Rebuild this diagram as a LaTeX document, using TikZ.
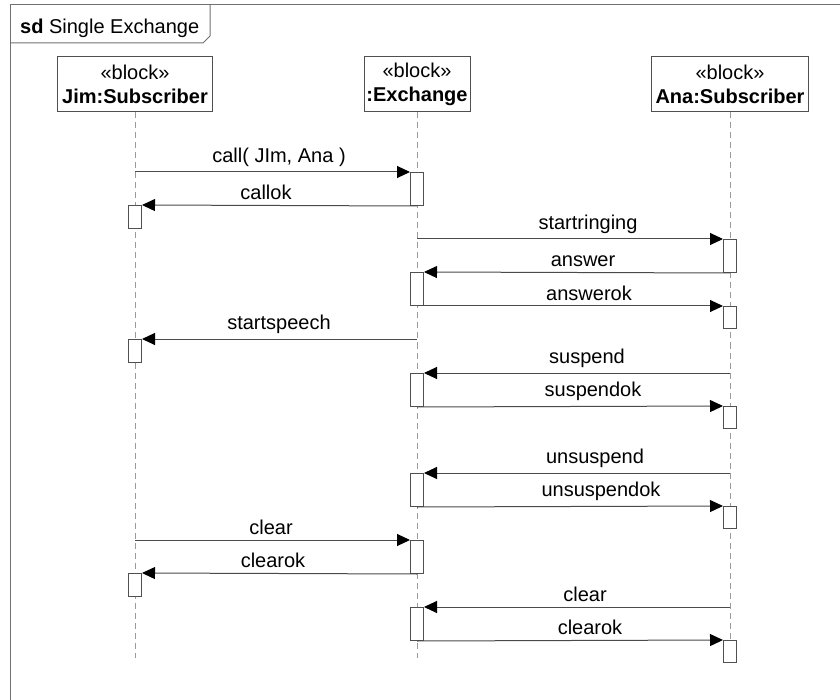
\documentclass[tikz,border=0pt]{standalone}
\usepackage{fontspec}
\setmainfont{Liberation Sans}
\usetikzlibrary{arrows.meta}

\definecolor{boxgray}{HTML}{505050}
\definecolor{msggray}{HTML}{4A4A4A}
\definecolor{lifegray}{HTML}{9A9A9A}
\definecolor{framegray}{HTML}{707070}

\tikzset{
  head/.style={draw=boxgray, fill=white, line width=1pt, minimum width=#1,
    minimum height=55pt, inner sep=0pt, align=center},
  act/.style={draw=boxgray, fill=white, line width=1pt, minimum width=13pt,
    minimum height=#1, inner sep=0pt, anchor=north},
  lifeline/.style={draw=lifegray, line width=0.8pt, dash pattern=on 6pt off 4pt},
  msg/.style={draw=msggray, line width=1pt,
    -{Triangle[length=13pt,width=12pt,color=black]}},
  msglbl/.style={anchor=south, inner sep=0pt},
}

\begin{document}
\begin{tikzpicture}[x=1pt, y=-1pt, font=\fontsize{20}{24}\selectfont]
\useasboundingbox (0,0) rectangle (840,700);

% frame
\draw[framegray, line width=1pt] (10,700) -- (10,5) -- (840,5);
\draw[framegray, line width=1pt] (10,43) -- (203,43) -- (210,36) -- (210,5);
\node[anchor=base west, inner sep=0pt] (title) at (20,34) {\textbf{sd} Single Exchange};

% lifelines
\node[head=155pt] (jim) at (135,84.5) {«block»\\\textbf{Jim:Subscriber}};
\node[head=106pt] (exch) at (417,84.5) {«block»\\\textbf{:Exchange}};
\node[head=157pt] (ana) at (730,84.5) {«block»\\\textbf{Ana:Subscriber}};

\coordinate (jimend) at (135,658);
\coordinate (exchend) at (417,658);
\coordinate (anaend) at (730,658);
\draw[lifeline] (jim.south) -- (jimend);
\draw[lifeline] (exch.south) -- (exchend);
\draw[lifeline] (ana.south) -- (anaend);

% activations
\node[act=33pt] (e1) at (417,172) {};
\node[act=33pt] (e2) at (417,272) {};
\node[act=33pt] (e3) at (417,373) {};
\node[act=33pt] (e4) at (417,473) {};
\node[act=33pt] (e5) at (417,540) {};
\node[act=33pt] (e6) at (417,607) {};

\node[act=23pt] (j1) at (135,205) {};
\node[act=23pt] (j2) at (135,339) {};
\node[act=23pt] (j3) at (135,573) {};

\node[act=33pt] (a1) at (730,239) {};
\node[act=22pt] (a2) at (730,306) {};
\node[act=22pt] (a3) at (730,406) {};
\node[act=22pt] (a4) at (730,506) {};
\node[act=22pt] (a5) at (730,640) {};

% messages
\draw[msg] (jim |- e1.north) -- (e1.north west);
\node[msglbl] (m1) at (279,167) {call( JIm, Ana )};
\draw[msg] (e1.south) -- (j1.north east);
\node[msglbl] (m2) at (266,200) {callok};
\draw[msg] (exch |- a1.north) -- (a1.north west);
\node[msglbl] (m3) at (588,234) {startringing};
\draw[msg] (a1.south) -- (e2.north east);
\node[msglbl] (m4) at (583,267) {answer};
\draw[msg] (e2.south) -- (a2.north west);
\node[msglbl] (m5) at (589,301) {answerok};
\draw[msg] (exch |- j2.north) -- (j2.north east);
\node[msglbl] (m6) at (279,334) {startspeech};
\draw[msg] (ana |- e3.north) -- (e3.north east);
\node[msglbl] (m7) at (587,368) {suspend};
\draw[msg] (e3.south) -- (a3.north west);
\node[msglbl] (m8) at (593,401) {suspendok};
\draw[msg] (ana |- e4.north) -- (e4.north east);
\node[msglbl] (m9) at (595,468) {unsuspend};
\draw[msg] (e4.south) -- (a4.north west);
\node[msglbl] (m10) at (601,501) {unsuspendok};
\draw[msg] (jim |- e5.north) -- (e5.north west);
\node[msglbl] (m11) at (271,535) {clear};
\draw[msg] (e5.south) -- (j3.north east);
\node[msglbl] (m12) at (273,568) {clearok};
\draw[msg] (ana |- e6.north) -- (e6.north east);
\node[msglbl] (m13) at (585,602) {clear};
\draw[msg] (e6.south) -- (a5.north west);
\node[msglbl] (m14) at (590,635) {clearok};

\end{tikzpicture}
\end{document}
